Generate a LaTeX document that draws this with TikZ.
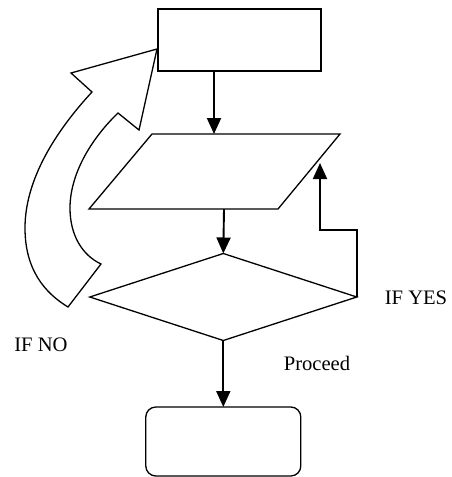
\documentclass[tikz,border=0pt]{standalone}
\usepackage{fontspec}
\setmainfont{Liberation Serif}
\usetikzlibrary{arrows.meta,shapes.geometric}

\tikzset{
  box/.style={draw, line width=1.3pt, fill=white, inner sep=0pt, outer sep=0pt},
  flow/.style={line width=1.9pt, -{Triangle[length=16pt,width=14pt]}},
  lbl/.style={font=\fontsize{20.6}{24}\selectfont, inner sep=0pt},
  bigarrow/.style={draw, line width=1.3pt, fill=white, line join=miter}
}

\begin{document}
\begin{tikzpicture}[x=1pt, y=-1pt]
  \useasboundingbox (0,0) rectangle (451,477);

  % process box at the top
  \node[box, minimum width=163pt, minimum height=62pt] (top) at (239.5,40) {};

  % input/output parallelogram
  \coordinate (pTL) at (152,134);
  \coordinate (pTR) at (340,134);
  \coordinate (pBR) at (278,209);
  \coordinate (pBL) at (89,209);
  \draw[line width=1.3pt, line join=miter] (pTL) -- (pTR) -- (pBR) -- (pBL) -- cycle;
  \coordinate (pIn) at (214,134);
  \coordinate (pOut) at (224,209);

  % decision diamond
  \node[box, diamond, minimum width=267pt, minimum height=87pt] (dec) at (223.3,297) {};

  % terminal box at the bottom
  \node[box, rounded corners=10pt, minimum width=155pt, minimum height=69pt] (end) at (223.3,441.5) {};

  % connectors
  \draw[flow] (top.south -| pIn) -- (pIn);
  \draw[flow] (pOut) -- (dec.north);
  \draw[flow] (dec.south) -- (end.north);

  \coordinate (yesTurn) at (320,230);
  \coordinate (yesTip) at (320,163);
  \draw[flow] (dec.east) |- (yesTurn) -- (yesTip);

  % curved block arrow for the "no" branch
  \coordinate (aTip) at (157,49);
  \coordinate (aBarbL) at (71,73);
  \coordinate (aNotchO) at (92,92);
  \coordinate (aTailO) at (68,307);
  \coordinate (aTailI) at (101,264);
  \coordinate (aNotchI) at (118,113);
  \coordinate (aBarbR) at (139,130);
  \draw[bigarrow]
    (aTip) -- (aBarbL) -- (aNotchO)
    .. controls (55,132) and (25,180) .. (25,228)
    .. controls (25,270) and (45,293) .. (aTailO)
    -- (aTailI)
    .. controls (82,255) and (70,235) .. (70,208)
    .. controls (70,175) and (90,140) .. (aNotchI)
    -- (aBarbR) -- cycle;

  % labels
  \node[lbl] (yes) at (416,298) {IF YES};
  \node[lbl] (no) at (41,345) {IF NO};
  \node[lbl] (go) at (317,363) {Proceed};
\end{tikzpicture}
\end{document}
